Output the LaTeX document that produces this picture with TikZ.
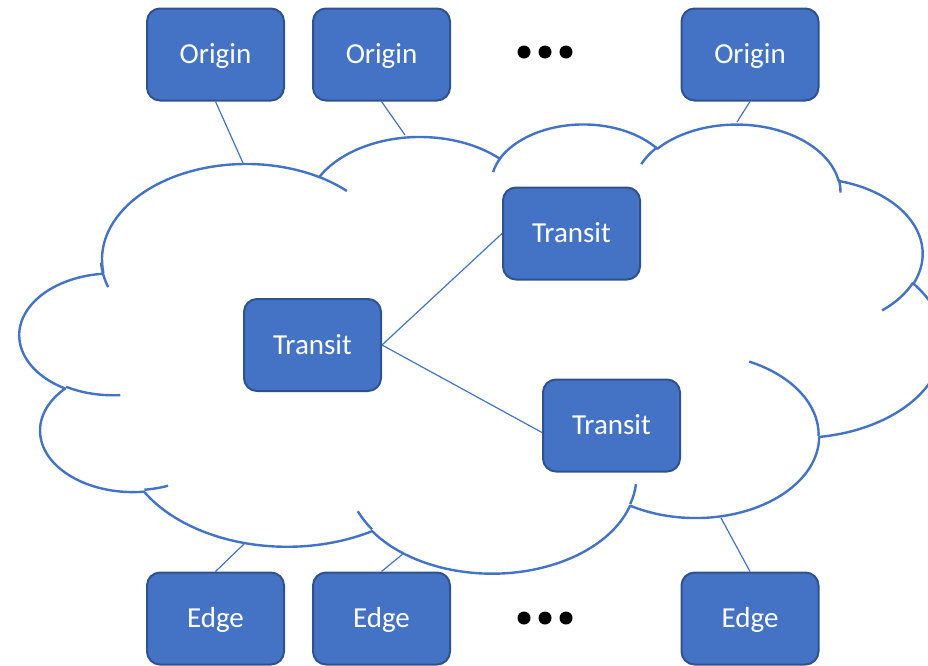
\documentclass[tikz,border=0pt]{standalone}
\usepackage{fontspec}
\setmainfont{Carlito}
\usetikzlibrary{calc}
\definecolor{obl}{HTML}{4472C4}
\definecolor{odk}{HTML}{2F528F}
\tikzset{
  ox/.code n args={4}{%
    \pgfmathsetmacro\oxa{atan2((#1)*sin(#3),(#2)*cos(#3))}%
    \pgfmathsetmacro\oxb{atan2((#1)*sin((#3)+(#4)),(#2)*cos((#3)+(#4)))}%
    \pgfmathsetmacro\oxb{ifthenelse(\oxb<\oxa,\oxb+360,\oxb)}%
    \edef\oxtmp{\noexpand\pgfkeysalso{start angle=\oxa,end angle=\oxb,x radius=#1,y radius=#2}}%
    \oxtmp},
  netbox/.style={draw=odk, line width=2pt, fill=obl, rounded corners=13pt,
    minimum width=137pt, minimum height=92pt, inner sep=0pt, text=white,
    text height=18.5pt, text depth=0pt,
    font=\fontsize{29}{35}\selectfont},
  link/.style={draw=obl, line width=1.2pt},
  cloudline/.style={draw=obl, line width=2.4pt, line join=round, line cap=butt},
  dot/.style={circle, fill=black, minimum size=13pt, inner sep=0pt}
}
\begin{document}
\begin{tikzpicture}[x=1pt,y=-1pt]
\useasboundingbox (0,0) rectangle (928,665);
\clip (0,0) rectangle (928,665);
% cloud (PowerPoint cloud geometry, path units /100)
\begin{scope}[shift={(20,123)}, xscale=2.1366, yscale=1.0394]
\draw[cloudline, fill=white] (39.00,143.70)
  arc[ox={67.53}{91.90}{-190.48748}{123.78053}]
  arc[ox={53.33}{72.67}{-144.10238}{89.94523}]
  arc[ox={43.65}{59.45}{-145.80792}{99.72302}]
  arc[ox={48.57}{65.95}{-130.98607}{117.24173}]
  arc[ox={53.33}{72.73}{-78.70888}{109.02692}]
  arc[ox={67.75}{92.20}{-46.26725}{130.26900}]
  arc[ox={57.85}{78.67}{0.62502}{114.03333}]
  arc[ox={67.52}{92.15}{22.45160}{115.17255}]
  arc[ox={77.20}{105.43}{66.24263}{75.71102}]
  arc[ox={43.60}{59.18}{-274.94208}{146.73557}]
  arc[ox={43.45}{59.45}{-246.82850}{152.51885}]
  -- cycle;
\draw[cloudline]
  (46.93,261.77) arc[ox={43.45}{59.45}{86.74200}{26.42950}]
  (69.28,348.99) arc[ox={43.60}{59.18}{73.61047}{11.44747}]
  (164.78,390.90) arc[ox={67.52}{92.15}{137.62415}{14.08110}]
  (288.27,347.51) arc[ox={67.52}{92.15}{6.45327}{15.99835}]
  (341.29,229.54) arc[ox={57.85}{78.67}{-70.29235}{70.91737}]
  (417.98,153.54) arc[ox={53.33}{72.73}{30.31803}{27.75150}]
  (383.24,54.26) arc[ox={48.57}{65.95}{-13.74433}{14.85890}]
  (290.78,39.52) arc[ox={48.57}{65.95}{-149.18145}{18.19537}]
  (221.41,47.20) arc[ox={43.65}{59.45}{-163.49427}{17.68635}]
  (140.00,51.92) arc[ox={67.53}{91.90}{-66.70695}{12.31935}]
  (41.27,157.89) arc[ox={67.53}{91.90}{155.64602}{19.56397}];
\end{scope}
% boxes
\node[netbox] (O1) at (215.5,54.5) {Origin};
\node[netbox] (O2) at (381.5,54.5) {Origin};
\node[netbox] (O3) at (750,54.5) {Origin};
\node[netbox] (E1) at (215.5,618.5) {Edge};
\node[netbox] (E2) at (381.5,618.5) {Edge};
\node[netbox] (E3) at (750,618.5) {Edge};
\node[netbox] (T1) at (312.5,345) {Transit};
\node[netbox] (T2) at (571.5,233.5) {Transit};
\node[netbox] (T3) at (611.5,425.5) {Transit};
% ellipses
\node[dot] (d1) at (524,52) {};
\node[dot] (d2) at (545,52) {};
\node[dot] (d3) at (566,52) {};
\node[dot] (d4) at (524,618) {};
\node[dot] (d5) at (545,618) {};
\node[dot] (d6) at (566,618) {};
% connector ends on the cloud
\coordinate (c1) at (243,163);
\coordinate (c2) at (405,135);
\coordinate (c3) at (737,122);
\coordinate (c4) at (244,544);
\coordinate (c5) at (404,553);
\coordinate (c6) at (721,518);
\draw[link] (O1.south) -- (c1);
\draw[link] (O2.south) -- (c2);
\draw[link] (O3.south) -- (c3);
\draw[link] (E1.north) -- (c4);
\draw[link] (E2.north) -- (c5);
\draw[link] (E3.north) -- (c6);
\draw[link] (T1.east) -- (T2.west);
\draw[link] (T1.east) -- ($(T3.west)+(0,7)$);
\end{tikzpicture}
\end{document}
